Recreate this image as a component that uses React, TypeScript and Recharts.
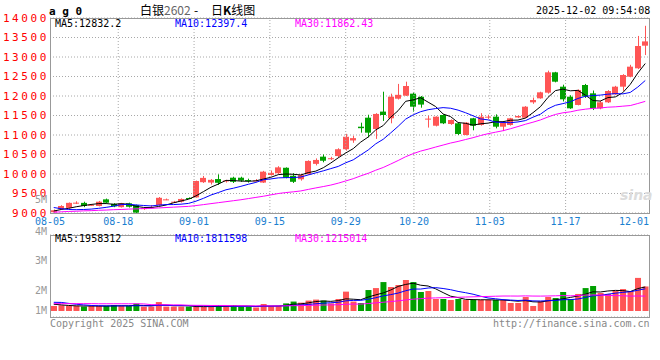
import React from 'react';
import { ComposedChart, Bar, Line, XAxis, YAxis, CartesianGrid, ReferenceLine, Cell } from 'recharts';

const MONO = '"DejaVu Sans Mono", monospace';
const RED = '#ff5555';
const GREEN = '#00a000';
const GRID = '#a8a8a8';

// trading days 08-05 .. 12-02
const dates = [
  '08-05', '08-06', '08-07', '08-08', '08-11', '08-12', '08-13', '08-14', '08-15', '08-18',
  '08-19', '08-20', '08-21', '08-22', '08-25', '08-26', '08-27', '08-28', '08-29', '09-01',
  '09-02', '09-03', '09-04', '09-05', '09-08', '09-09', '09-10', '09-11', '09-12', '09-15',
  '09-16', '09-17', '09-18', '09-19', '09-22', '09-23', '09-24', '09-25', '09-26', '09-29',
  '09-30', '10-09', '10-10', '10-13', '10-14', '10-15', '10-16', '10-17', '10-20', '10-21',
  '10-22', '10-23', '10-24', '10-27', '10-28', '10-29', '10-30', '10-31', '11-03', '11-04',
  '11-05', '11-06', '11-07', '11-10', '11-11', '11-12', '11-13', '11-14', '11-17', '11-18',
  '11-19', '11-20', '11-21', '11-24', '11-25', '11-26', '11-27', '11-28', '12-01', '12-02',
];
const tickDates = ['08-05', '08-18', '09-01', '09-15', '09-29', '10-20', '11-03', '11-17', '12-01'];
const gridDates = ['08-18', '09-01', '09-15', '09-29', '10-20', '11-03', '11-17'];
const priceTicks = [9000, 9500, 10000, 10500, 11000, 11500, 12000, 12500, 13000, 13500, 14000];
const volLabels = ['5M', '4M', '3M', '2M', '1M'];

const opens = [
  9020, 9100, 9130, 9255, 9260, 9195, 9180, 9350, 9235, 9150,
  9250, 9205, 9100, 9130, 9200, 9340, 9280, 9290, 9385, 9400,
  9790, 9780, 9870, 9825, 9905, 9905, 9845, 9825, 9780, 9975,
  10020, 10160, 9955, 9865, 9995, 10260, 10445, 10395, 10460, 10635,
  10860, 11213, 11444, 11154, 11600, 11428, 11931, 12008, 12060, 11980,
  11400, 11238, 11513, 11282, 11300, 11000, 11428, 11257, 11460, 11470,
  11213, 11257, 11450, 11444, 11838, 11940, 12085, 12607, 12239, 11982,
  11770, 12282, 12068, 11684, 11838, 12043, 12239, 12495, 12710, 13290,
];
const closes = [
  9070, 9180, 9260, 9265, 9180, 9210, 9290, 9265, 9170, 9250,
  9160, 9010, 9125, 9150, 9390, 9350, 9290, 9360, 9375, 9820,
  9900, 9850, 9775, 9835, 9800, 9830, 9825, 9835, 10060, 10030,
  10170, 9905, 9800, 9970, 10335, 10360, 10340, 10405, 10635, 10955,
  10920, 11175, 11060, 11540, 11513, 11982, 12030, 12256, 11726, 11780,
  11420, 11470, 11300, 11385, 11026, 11316, 11238, 11470, 11470, 11213,
  11316, 11428, 11487, 11726, 11897, 12094, 12607, 12367, 11915, 11684,
  12154, 11990, 11684, 11838, 12128, 12239, 12538, 12752, 13282, 13400,
];
const highs = [
  9090, 9200, 9270, 9300, 9290, 9230, 9310, 9370, 9250, 9260,
  9265, 9215, 9140, 9200, 9410, 9370, 9310, 9375, 9400, 9830,
  9950, 9870, 9990, 9850, 9930, 9930, 9880, 9870, 10080, 10090,
  10200, 10170, 10020, 10010, 10350, 10400, 10500, 10440, 10660, 11030,
  10980, 11316, 11520, 11560, 12110, 12060, 12310, 12367, 12090, 12000,
  11490, 11480, 11530, 11400, 11310, 11330, 11440, 11560, 11520, 11530,
  11330, 11440, 11500, 11740, 11960, 12110, 12650, 12620, 12290, 12020,
  12170, 12310, 12140, 11880, 12150, 12260, 12560, 12800, 13540, 13800,
];
const lows = [
  9010, 9090, 9120, 9230, 9150, 9180, 9170, 9250, 9150, 9140,
  9140, 9000, 9080, 9120, 9190, 9330, 9260, 9270, 9360, 9395,
  9770, 9730, 9720, 9780, 9770, 9800, 9780, 9810, 9770, 9960,
  10000, 9890, 9770, 9830, 9980, 10220, 10300, 10360, 10420, 10600,
  10800, 11060, 10940, 10900, 11360, 11300, 11910, 12000, 11600, 11700,
  11190, 11220, 11280, 11260, 11000, 10990, 11120, 11240, 11410, 11170,
  11100, 11240, 11440, 11430, 11800, 11930, 12060, 12350, 11860, 11670,
  11760, 11950, 11640, 11660, 11820, 12030, 12130, 12480, 12690, 13050,
];
const ma5 = [
  9050, 9090, 9120, 9160, 9191, 9219, 9241, 9242, 9223, 9237,
  9227, 9171, 9143, 9139, 9167, 9205, 9261, 9308, 9353, 9439,
  9549, 9661, 9744, 9836, 9832, 9818, 9813, 9825, 9870, 9916,
  9984, 10000, 9993, 9975, 10036, 10074, 10161, 10282, 10415, 10539,
  10651, 10818, 10949, 11130, 11242, 11454, 11625, 11864, 11901, 11955,
  11842, 11730, 11539, 11471, 11320, 11299, 11253, 11287, 11304, 11341,
  11341, 11379, 11383, 11434, 11571, 11726, 11962, 12138, 12176, 12133,
  12145, 12022, 11885, 11870, 11959, 11976, 12085, 12299, 12588, 12832.2,
];
const ma10 = [
  9140, 9110, 9090, 9085, 9090, 9100, 9120, 9145, 9175, 9214,
  9223, 9206, 9193, 9181, 9202, 9216, 9216, 9226, 9246, 9303,
  9377, 9461, 9526, 9595, 9636, 9684, 9737, 9785, 9853, 9874,
  9901, 9907, 9909, 9923, 9976, 10029, 10081, 10138, 10195, 10288,
  10363, 10490, 10616, 10773, 10890, 11053, 11222, 11407, 11516, 11598,
  11648, 11678, 11702, 11686, 11638, 11571, 11492, 11413, 11388, 11331,
  11320, 11316, 11335, 11369, 11456, 11534, 11671, 11761, 11805, 11852,
  11936, 11992, 12012, 12023, 12046, 12061, 12054, 12092, 12229, 12397.4,
];
const ma30 = [
  9020, 9030, 9040, 9045, 9055, 9060, 9070, 9075, 9085, 9090,
  9100, 9105, 9115, 9120, 9130, 9140, 9150, 9160, 9170, 9190,
  9215, 9240, 9265, 9290, 9315, 9340, 9370, 9400, 9430, 9464,
  9500, 9524, 9543, 9566, 9605, 9643, 9678, 9716, 9765, 9822,
  9880, 9952, 10017, 10097, 10167, 10255, 10346, 10443, 10521, 10587,
  10637, 10691, 10742, 10794, 10835, 10884, 10931, 10986, 11033, 11072,
  11110, 11161, 11217, 11276, 11328, 11386, 11461, 11527, 11569, 11594,
  11635, 11662, 11683, 11693, 11713, 11722, 11739, 11755, 11807, 11862.43,
];
const volumes = [
  410000, 460000, 410000, 410000, 360000, 410000, 410000, 410000, 490000, 410000,
  410000, 600000, 360000, 360000, 730000, 360000, 360000, 360000, 360000, 360000,
  360000, 360000, 460000, 360000, 460000, 360000, 360000, 290000, 570000, 410000,
  410000, 620000, 770000, 680000, 850000, 930000, 850000, 620000, 980000, 1580000,
  770000, 650000, 1710000, 1870000, 2360000, 1960000, 2120000, 2530000, 2360000, 1550000,
  1630000, 980000, 980000, 900000, 980000, 900000, 900000, 900000, 900000, 900000,
  900000, 650000, 650000, 1140000, 410000, 810000, 1140000, 1060000, 1550000, 980000,
  1390000, 1870000, 2040000, 1470000, 1390000, 1630000, 1790000, 1630000, 2700000, 2000000,
];
const volMa5 = [
  550000, 500000, 450000, 420000, 410000, 410000, 400000, 400000, 416000, 426000,
  426000, 464000, 454000, 428000, 492000, 482000, 434000, 434000, 434000, 360000,
  360000, 360000, 380000, 380000, 400000, 400000, 400000, 366000, 408000, 398000,
  408000, 460000, 556000, 578000, 666000, 770000, 816000, 786000, 846000, 992000,
  960000, 920000, 1138000, 1316000, 1472000, 1710000, 2004000, 2168000, 2266000, 2104000,
  2038000, 1810000, 1500000, 1208000, 1094000, 948000, 932000, 916000, 916000, 900000,
  900000, 850000, 800000, 848000, 750000, 732000, 830000, 912000, 994000, 1108000,
  1224000, 1370000, 1566000, 1550000, 1632000, 1680000, 1664000, 1582000, 1828000, 1958312,
];
const volMa10 = [
  710000, 700000, 620000, 550000, 500000, 450000, 430000, 420000, 420000, 418000,
  418000, 432000, 427000, 422000, 459000, 454000, 449000, 444000, 431000, 426000,
  421000, 397000, 407000, 407000, 380000, 380000, 380000, 373000, 394000, 399000,
  404000, 430000, 461000, 493000, 532000, 589000, 638000, 671000, 712000, 829000,
  865000, 868000, 962000, 1081000, 1232000, 1335000, 1462000, 1653000, 1791000, 1788000,
  1874000, 1907000, 1834000, 1737000, 1599000, 1493000, 1371000, 1208000, 1062000, 997000,
  924000, 891000, 858000, 882000, 825000, 816000, 840000, 856000, 921000, 929000,
  978000, 1100000, 1239000, 1272000, 1370000, 1452000, 1517000, 1574000, 1689000, 1811598,
];
const volMa30 = [
  600000, 600000, 600000, 600000, 600000, 600000, 590000, 590000, 590000, 590000,
  590000, 590000, 580000, 520000, 510000, 510000, 500000, 500000, 470000, 460000,
  460000, 450000, 450000, 450000, 430000, 430000, 420000, 420000, 420000, 414000,
  414000, 420000, 432000, 441000, 457000, 474000, 489000, 496000, 512000, 551000,
  563000, 565000, 610000, 660000, 715000, 768000, 827000, 899000, 966000, 1005000,
  1048000, 1068000, 1086000, 1104000, 1121000, 1139000, 1157000, 1177000, 1188000, 1205000,
  1221000, 1222000, 1218000, 1233000, 1219000, 1215000, 1224000, 1239000, 1258000, 1238000,
  1259000, 1299000, 1310000, 1297000, 1265000, 1254000, 1243000, 1213000, 1224000, 1215014,
];

const rows = dates.map((date, i) => ({
  date,
  idx: i,
  open: opens[i],
  high: highs[i],
  low: lows[i],
  close: closes[i],
  ma5: ma5[i],
  ma10: ma10[i],
  ma30: ma30[i],
  volume: volumes[i],
  vma5: volMa5[i],
  vma10: volMa10[i],
  vma30: volMa30[i],
}));

const tickIdx = tickDates.map((d) => dates.indexOf(d));
const gridIdx = gridDates.map((d) => dates.indexOf(d));
const last = (a: number[]) => a[a.length - 1];

// candle drawn from the [low, high] range bar
const Candle = (props: any) => {
  const { x, y, width, height, payload } = props;
  const { open, close, high, low } = payload;
  const color = close >= open ? RED : GREEN;
  const top = Math.min(y, y + height);
  const h = Math.abs(height);
  const k = high > low ? h / (high - low) : 0;
  const cx = Math.round(x + width / 2);
  const yO = top + (high - open) * k;
  const yC = top + (high - close) * k;
  const bodyTop = Math.min(yO, yC);
  const bodyH = Math.max(1, Math.abs(yO - yC));
  return (
    <g>
      <line x1={cx + 0.5} x2={cx + 0.5} y1={top} y2={top + h} stroke={color} strokeWidth={1} />
      <rect x={cx - 3} y={bodyTop} width={6} height={bodyH} fill={color} />
    </g>
  );
};

const PriceTick = ({ x, y, payload }: any) => (
  <text x={x - 1} y={y + 3.5} textAnchor="end" fill="#ff0000" fontFamily={MONO} fontSize={11} letterSpacing={2.6}>
    {payload.value}
  </text>
);

const DateTick = ({ x, y, payload }: any) => {
  const clamp = x > 634;
  return (
    <text x={clamp ? 649 : x} y={y + 12} textAnchor={clamp ? 'end' : 'middle'} fill="#1a80d0" fontFamily={MONO} fontSize={10}>
      {dates[payload.value]}
    </text>
  );
};

const txt = (left: number, top: number, color: string, extra: React.CSSProperties = {}): React.CSSProperties => ({
  position: 'absolute', left, top, color, fontFamily: MONO, fontSize: 10, lineHeight: '10px', whiteSpace: 'nowrap', ...extra,
});

const cjk = (left: number, color: string): React.CSSProperties => ({
  position: 'absolute', left, top: 4, color, fontFamily: '"Noto Sans CJK SC"', fontSize: 12, lineHeight: '12px', whiteSpace: 'nowrap',
});

export default function App() {
  return (
    <div style={{ position: 'absolute', left: 0, top: 0, width: 660, height: 360, background: '#fff', overflow: 'hidden' }}>
      <div style={txt(49, 6, '#000', { fontSize: 11, lineHeight: '11px', fontWeight: 'bold' })}>a g 0</div>
      <div style={cjk(140, '#000')}>白银<span style={{ color: '#666' }}>2602</span></div>
      <div style={cjk(194, '#000')}>-</div>
      <div style={cjk(211, '#000')}>日<b>K</b>线图</div>
      <div style={txt(536, 6, '#000')}>2025-12-02 09:54:08</div>

      <div style={{ position: 'absolute', left: 0, top: 0 }}>
        <ComposedChart width={660} height={230} data={rows} margin={{ top: 18, right: 11, bottom: 0, left: 0 }}>
          <CartesianGrid vertical={false} stroke={GRID} strokeDasharray="1 2" />
          <XAxis dataKey="date" orientation="top" height={0} hide />
          <XAxis xAxisId="idx" type="number" dataKey="idx" domain={[0, dates.length - 1]} ticks={tickIdx} interval={0}
            tickLine={false} axisLine={false} tickSize={0} tickMargin={0} height={17} tick={<DateTick />} />
          <YAxis domain={[9000, 14000]} allowDataOverflow ticks={priceTicks} interval={0} width={50}
            tickLine={false} axisLine={false} tickSize={0} tickMargin={0} tick={<PriceTick />} />
          {gridIdx.map((i) => (
            <ReferenceLine key={i} xAxisId="idx" x={i} stroke={GRID} strokeDasharray="1 2" />
          ))}
          <Bar dataKey={(d: any) => [d.low, d.high]} shape={<Candle />} isAnimationActive={false} />
          <Line dataKey="ma5" stroke="#000000" strokeWidth={1} dot={false} isAnimationActive={false} />
          <Line dataKey="ma10" stroke="#0000ff" strokeWidth={1} dot={false} isAnimationActive={false} />
          <Line dataKey="ma30" stroke="#ff00ff" strokeWidth={1} dot={false} isAnimationActive={false} />
        </ComposedChart>
      </div>
      <div style={{ position: 'absolute', left: 50, top: 18, width: 600, height: 196, border: '1px solid #999', boxSizing: 'border-box' }} />
      <div style={txt(55, 19, '#000')}>MA5:{last(ma5)}</div>
      <div style={txt(175, 19, '#0000ff')}>MA10:{last(ma10)}</div>
      <div style={txt(295, 19, '#ff00ff')}>MA30:{last(ma30)}</div>
      <div style={{ position: 'absolute', left: 620, top: 188, fontFamily: '"DejaVu Sans"', fontSize: 14, lineHeight: '14px', fontWeight: 'bold', fontStyle: 'italic', color: '#dcdcdc' }}>sina</div>

      <div style={{ position: 'absolute', left: 0, top: 225 }}>
        <ComposedChart width={660} height={100} data={rows} margin={{ top: 10, right: 11, bottom: 8, left: 50 }}>
          <XAxis dataKey="date" orientation="top" height={0} hide />
          <XAxis xAxisId="idx" type="number" dataKey="idx" domain={[0, dates.length - 1]} height={0} hide />
          <YAxis type="number" domain={[0, 4]} ticks={[0, 1, 2, 3, 4]} hide />
          <YAxis yAxisId="vol" type="number" domain={[-490000, 6200000]} allowDataOverflow hide />
          <CartesianGrid vertical={false} stroke={GRID} strokeDasharray="1 2" />
          {gridIdx.map((i) => (
            <ReferenceLine key={i} xAxisId="idx" x={i} stroke={GRID} strokeDasharray="1 2" />
          ))}
          <Bar yAxisId="vol" dataKey="volume" barSize={6} isAnimationActive={false}>
            {rows.map((r, i) => (
              <Cell key={i} fill={r.close >= r.open ? RED : GREEN} />
            ))}
          </Bar>
          <Line yAxisId="vol" dataKey="vma5" stroke="#000000" strokeWidth={1} dot={false} isAnimationActive={false} />
          <Line yAxisId="vol" dataKey="vma10" stroke="#0000ff" strokeWidth={1} dot={false} isAnimationActive={false} />
          <Line yAxisId="vol" dataKey="vma30" stroke="#ff00ff" strokeWidth={1} dot={false} isAnimationActive={false} />
        </ComposedChart>
      </div>
      <div style={{ position: 'absolute', left: 50, top: 235, width: 600, height: 83, border: '1px solid #999', boxSizing: 'border-box' }} />
      <div style={txt(55, 234, '#000')}>MA5:{last(volMa5)}</div>
      <div style={txt(175, 234, '#0000ff')}>MA10:{last(volMa10)}</div>
      <div style={txt(295, 234, '#ff00ff')}>MA30:{last(volMa30)}</div>
      {volLabels.map((l, i) => (
        <div key={l} style={txt(0, [196, 228, 257, 287, 307][i], '#999', { width: 47, textAlign: 'right', lineHeight: '8px' })}>{l}</div>
      ))}

      <div style={txt(50, 319, '#888')}>Copyright 2025 SINA.COM</div>
      <div style={txt(493, 319, '#888')}>http://finance.sina.com.cn</div>
    </div>
  );
}
